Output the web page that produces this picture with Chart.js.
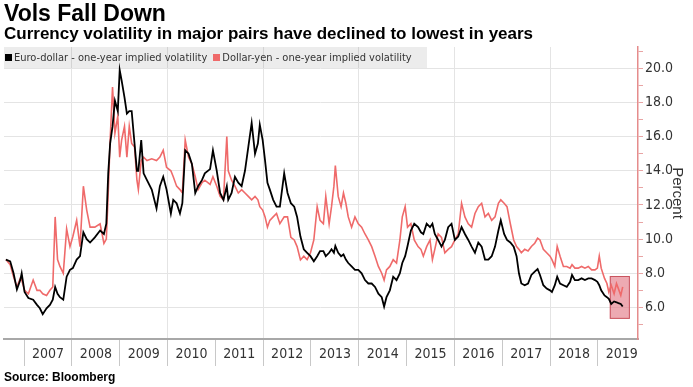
<!DOCTYPE html>
<html>
<head>
<meta charset="utf-8">
<script src="https://cdn.jsdelivr.net/npm/chart.js@4.4.1/dist/chart.umd.min.js"></script>
<style>
  html, body { margin: 0; padding: 0; background: #fff; }
  #wrap { position: relative; width: 693px; height: 387px; overflow: hidden; }
  #chart { position: absolute; left: 0; top: 0; }
  .txt { position: absolute; left: 4px; color: #000; font-family: 'Liberation Sans', Arial, sans-serif; font-weight: bold; white-space: nowrap; }
  #title { top: 0; font-size: 23px; line-height: 26px; }
  #subtitle { top: 24px; font-size: 17px; line-height: 20px; }
  #source { top: 369px; font-size: 12px; line-height: 16px; }
  #legend { position: absolute; left: 4px; top: 47px; width: 423px; height: 21px; background: rgba(0,0,0,0.075);
            font: 11px 'Liberation Sans Narrow', 'DejaVu Sans Condensed', sans-serif; line-height: 21px; color: #333; white-space: nowrap; }
  #legend span { margin-right: 5px; }
  #legend i { display: inline-block; width: 7px; height: 7px; margin: 0 2px 0 1px; vertical-align: 0; }
</style>
</head>
<body>
<div id="wrap">
  <canvas id="chart" width="693" height="387"></canvas>
  <div id="title" class="txt">Vols Fall Down</div>
  <div id="subtitle" class="txt">Currency volatility in major pairs have declined to lowest in years</div>
  <div id="legend"></div>
  <div id="source" class="txt">Source: Bloomberg</div>
</div>
<script>
// decimal years, shared by both series
const dates = [
  2006.62, 2006.71, 2006.78, 2006.85, 2006.92, 2006.95, 2007.01, 2007.09, 2007.19, 2007.27,
  2007.33, 2007.39, 2007.47, 2007.54, 2007.60, 2007.65, 2007.70, 2007.75, 2007.82, 2007.89,
  2007.96, 2008.02, 2008.10, 2008.17, 2008.24, 2008.31, 2008.38, 2008.48, 2008.59, 2008.67,
  2008.72, 2008.76, 2008.80, 2008.85, 2008.90, 2008.96, 2009.00, 2009.04, 2009.10, 2009.15,
  2009.20, 2009.25, 2009.31, 2009.36, 2009.39, 2009.45, 2009.50, 2009.57, 2009.67, 2009.77,
  2009.84, 2009.91, 2009.98, 2010.07, 2010.12, 2010.19, 2010.26, 2010.31, 2010.37, 2010.44,
  2010.51, 2010.58, 2010.64, 2010.72, 2010.78, 2010.89, 2010.95, 2011.03, 2011.10, 2011.17,
  2011.24, 2011.27, 2011.34, 2011.41, 2011.48, 2011.55, 2011.62, 2011.69, 2011.76, 2011.83,
  2011.89, 2011.93, 2011.99, 2012.04, 2012.09, 2012.14, 2012.21, 2012.28, 2012.35, 2012.44,
  2012.51, 2012.58, 2012.65, 2012.71, 2012.78, 2012.85, 2012.92, 2012.99, 2013.06, 2013.13,
  2013.19, 2013.26, 2013.31, 2013.38, 2013.43, 2013.48, 2013.51, 2013.57, 2013.63, 2013.68,
  2013.73, 2013.78, 2013.85, 2013.92, 2013.99, 2014.06, 2014.13, 2014.20, 2014.27, 2014.34,
  2014.41, 2014.48, 2014.53, 2014.58, 2014.65, 2014.72, 2014.79, 2014.86, 2014.91, 2014.97,
  2015.02, 2015.09, 2015.16, 2015.24, 2015.30, 2015.35, 2015.42, 2015.49, 2015.54, 2015.59,
  2015.66, 2015.73, 2015.80, 2015.87, 2015.94, 2016.01, 2016.08, 2016.15, 2016.22, 2016.29,
  2016.36, 2016.43, 2016.50, 2016.57, 2016.64, 2016.71, 2016.78, 2016.85, 2016.92, 2016.97,
  2017.04, 2017.10, 2017.17, 2017.24, 2017.30, 2017.35, 2017.40, 2017.47, 2017.54, 2017.61,
  2017.68, 2017.74, 2017.79, 2017.86, 2017.93, 2018.00, 2018.04, 2018.10, 2018.15, 2018.21,
  2018.28, 2018.35, 2018.42, 2018.46, 2018.52, 2018.59, 2018.66, 2018.73, 2018.80, 2018.87,
  2018.94, 2018.99, 2019.03, 2019.07, 2019.14, 2019.19, 2019.23, 2019.28, 2019.34, 2019.39,
  2019.43, 2019.48, 2019.52
];

const euroDollar = [
  8.8, 8.7, 8.0, 7.05, 7.6, 8.0, 6.9, 6.55, 6.45, 6.15,
  5.95, 5.6, 5.95, 6.15, 6.45, 7.2, 6.8, 6.6, 6.45, 7.8,
  8.2, 8.3, 8.8, 9.0, 10.4, 10.0, 9.8, 10.1, 10.5, 10.3,
  10.9, 13.85, 15.6, 16.6, 18.1, 17.5, 19.9, 19.3, 18.3, 17.35,
  17.5, 17.5, 15.6, 14.0, 14.0, 15.8, 13.85, 13.45, 12.9, 11.8,
  13.1, 13.65, 12.9, 11.5, 12.3, 12.1, 11.5, 12.1, 15.2, 15.0,
  14.4, 12.7, 13.1, 13.45, 13.85, 14.1, 15.2, 14.0, 12.7, 12.3,
  13.1, 12.3, 12.7, 13.65, 13.3, 13.1, 14.0, 15.4, 16.8, 15.0,
  15.6, 16.7, 15.8, 14.6, 13.3, 12.9, 12.3, 11.9, 11.9, 13.85,
  12.7, 12.1, 11.9, 11.3, 10.15, 9.4, 9.2, 9.0, 8.7, 9.0,
  9.3, 9.3, 9.0, 9.2, 9.4, 9.2, 9.6, 9.2, 9.0, 9.1,
  8.8, 8.6, 8.4, 8.2, 8.2, 8.0, 7.6, 7.4, 7.4, 7.2,
  6.8, 6.6, 6.05, 6.6, 7.0, 7.8, 7.6, 8.0, 8.6, 9.0,
  9.6, 10.5, 10.9, 10.7, 10.4, 10.3, 10.9, 10.7, 10.9, 10.3,
  9.95, 9.56, 9.95, 10.7, 10.9, 9.95, 10.15, 10.7, 10.3, 9.95,
  9.56, 9.2, 9.8, 9.56, 8.8, 8.8, 9.0, 9.56, 10.5, 11.1,
  10.3, 9.95, 9.8, 9.56, 9.0, 8.0, 7.4, 7.3, 7.4, 7.9,
  8.1, 8.25, 7.9, 7.3, 7.1, 7.0, 6.9, 7.3, 7.8, 7.4,
  7.3, 7.2, 7.5, 7.9, 7.6, 7.6, 7.7, 7.6, 7.7, 7.7,
  7.6, 7.5, 7.3, 7.0, 6.7, 6.6, 6.5, 6.2, 6.35, 6.3,
  6.25, 6.2, 6.05
];

const dollarYen = [
  8.8, 8.5, 7.8, 7.2, 7.7, 7.6, 7.0, 6.8, 7.6, 7.0,
  7.0, 6.8, 6.7, 7.0, 7.2, 11.3, 8.8, 8.4, 8.0, 10.6,
  9.56, 10.15, 11.1, 9.56, 13.1, 11.7, 10.7, 10.7, 10.9, 9.75,
  10.0, 12.7, 15.8, 18.9, 16.2, 17.2, 14.8, 15.8, 16.6, 14.8,
  16.6, 15.6, 15.4, 13.45, 12.9, 14.6, 14.8, 14.6, 14.7, 14.6,
  14.8, 15.2, 14.2, 14.0, 13.65, 13.1, 12.9, 12.7, 15.8, 14.8,
  14.4, 13.65, 12.9, 13.3, 13.45, 13.2, 13.65, 13.1, 12.5, 12.3,
  16.0, 14.0, 13.45, 13.1, 12.7, 12.9, 12.7, 12.5, 12.3, 12.5,
  12.3, 11.9, 11.7, 11.3, 10.7, 11.1, 11.3, 11.5, 10.9, 11.3,
  11.3, 10.1, 9.95, 9.56, 8.78, 9.0, 8.8, 9.2, 9.95, 11.9,
  11.1, 10.9, 12.5, 10.9, 11.9, 13.1, 14.3, 12.5, 11.9, 12.7,
  12.1, 11.3, 10.7, 11.3, 10.9, 10.7, 10.3, 9.95, 9.56, 9.0,
  8.4, 8.0, 7.6, 8.2, 8.4, 8.8, 8.6, 9.95, 11.3, 11.9,
  10.7, 10.9, 9.95, 9.56, 9.4, 9.0, 9.56, 9.95, 8.8, 9.4,
  10.3, 10.1, 9.2, 9.4, 9.56, 9.95, 10.3, 12.1, 11.3, 10.9,
  10.7, 11.5, 11.9, 12.1, 11.3, 11.5, 11.1, 11.3, 12.1, 12.3,
  12.1, 11.9, 10.9, 9.95, 9.56, 9.4, 9.2, 9.4, 9.3, 9.57,
  9.76, 10.05, 9.95, 9.4, 9.2, 9.0, 8.8, 8.4, 9.57, 9.0,
  8.4, 8.4, 8.3, 8.5, 8.3, 8.3, 8.4, 8.3, 8.4, 8.2,
  8.2, 8.3, 9.0, 8.3, 7.7, 7.4, 6.9, 7.3, 6.8, 7.4,
  7.1, 6.7, 7.2
];

const seriesNames = ['Euro-dollar - one-year implied volatility', 'Dollar-yen - one-year implied volatility'];
const seriesColors = ['#000000', '#ef6a6a'];
const yearTicks = [2007, 2008, 2009, 2010, 2011, 2012, 2013, 2014, 2015, 2016, 2017, 2018, 2019];
const yMajorTicks = [6, 8, 10, 12, 14, 16, 18, 20];
const yMinorTicks = [5, 7, 9, 11, 13, 15, 17, 19, 21];
const xRange = [2006.58, 2019.84];
const yRange = [4.15, 21.25];
// shaded box around the latest readings
const highlightX = [2019.25, 2019.67];
const highlightY = [5.33, 7.84];

const narrow = "'Liberation Sans Narrow', 'DejaVu Sans Condensed', sans-serif";
Chart.defaults.font.family = narrow;
Chart.defaults.color = '#333';

const highlightBox = {
  id: 'highlightBox',
  beforeDatasetsDraw(chart) {
    const { ctx, scales } = chart;
    const x0 = scales.x.getPixelForValue(highlightX[0]);
    const x1 = scales.x.getPixelForValue(highlightX[1]);
    const y0 = scales.y.getPixelForValue(highlightY[1]);
    const y1 = scales.y.getPixelForValue(highlightY[0]);
    ctx.save();
    ctx.fillStyle = 'rgba(226, 118, 130, 0.62)';
    ctx.strokeStyle = '#c9545f';
    ctx.lineWidth = 1;
    ctx.fillRect(x0, y0, x1 - x0, y1 - y0);
    ctx.strokeRect(x0 + 0.5, y0 + 0.5, x1 - x0 - 1, y1 - y0 - 1);
    ctx.restore();
  }
};

const toPoints = vals => dates.map((d, i) => ({ x: d, y: vals[i] }));

const chart = new Chart(document.getElementById('chart'), {
  type: 'line',
  data: {
    datasets: [
      { label: seriesNames[0], data: toPoints(euroDollar), borderColor: seriesColors[0], borderWidth: 1.8, pointRadius: 0, tension: 0 },
      { label: seriesNames[1], data: toPoints(dollarYen), borderColor: seriesColors[1], borderWidth: 1.6, pointRadius: 0, tension: 0 }
    ]
  },
  options: {
    responsive: false,
    animation: false,
    layout: { padding: { top: 47, left: 4, right: 0, bottom: 0 } },
    plugins: { legend: { display: false }, tooltip: { enabled: false } },
    scales: {
      x: {
        type: 'linear',
        min: xRange[0],
        max: xRange[1],
        afterBuildTicks: s => { s.ticks = yearTicks.map(v => ({ value: v })); },
        afterFit: s => { s.height = 48; },
        ticks: { callback: v => String(v), labelOffset: 24, padding: -20, maxRotation: 0, autoSkip: false, color: '#333', font: { size: 14 } },
        grid: {
          color: c => (c.tick && c.tick.value % 2 === 0) ? '#e4e4e4' : 'rgba(0,0,0,0)',
          tickColor: '#c8c8c8',
          tickLength: 27
        },
        border: { color: '#a8a8a8', width: 2 }
      },
      y: {
        position: 'right',
        min: yRange[0],
        max: yRange[1],
        afterBuildTicks: s => { s.ticks = yMajorTicks.concat(yMinorTicks).sort((a, b) => a - b).map(v => ({ value: v })); },
        afterFit: s => { s.width = 55; },
        ticks: { callback: v => yMajorTicks.includes(v) ? v.toFixed(1) : '', padding: 2, autoSkip: false, color: '#333', font: { size: 14 } },
        grid: {
          color: c => (c.tick && yMajorTicks.includes(c.tick.value)) ? '#e4e4e4' : 'rgba(0,0,0,0)',
          tickColor: '#e8a4a4',
          tickLength: 5
        },
        border: { color: '#e58c8c', width: 1.5 },
        title: { display: true, text: 'Percent', color: '#333', font: { family: "'Liberation Sans', Arial, sans-serif", size: 15 }, padding: { top: 7, bottom: 0 } }
      }
    }
  },
  plugins: [highlightBox]
});

// legend strip built from the datasets
const legend = document.getElementById('legend');
chart.data.datasets.forEach(ds => {
  const item = document.createElement('span');
  const sw = document.createElement('i');
  sw.style.background = ds.borderColor;
  item.appendChild(sw);
  item.appendChild(document.createTextNode(ds.label));
  legend.appendChild(item);
});
</script>
</body>
</html>
